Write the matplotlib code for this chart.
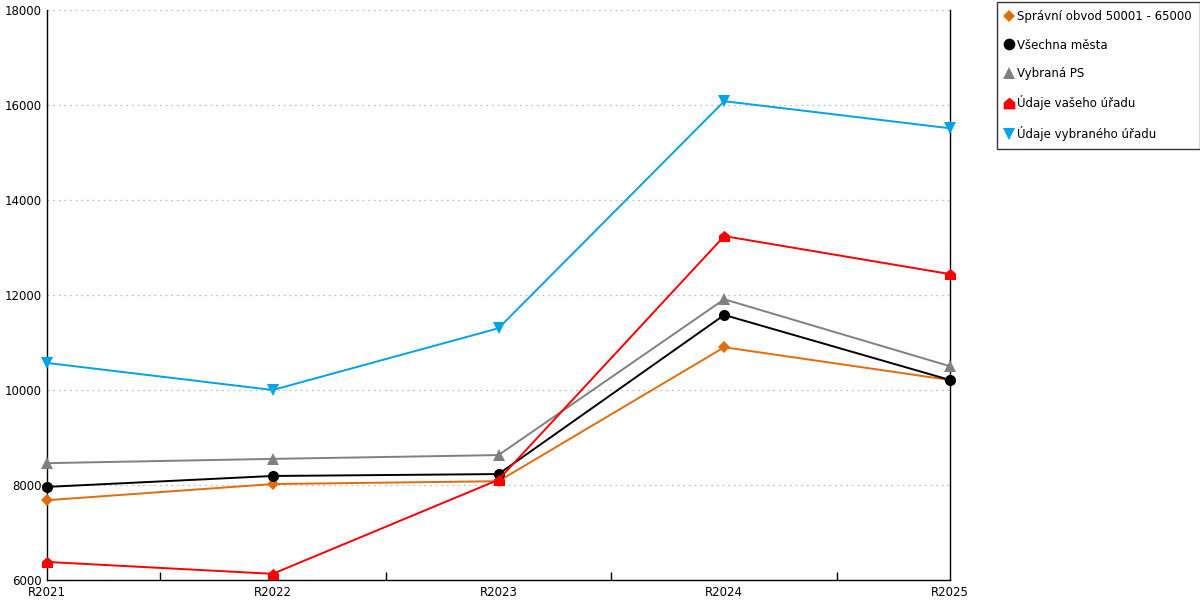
import numpy as np
import matplotlib.pyplot as plt
from matplotlib.path import Path
from matplotlib.lines import Line2D

# data
roky = ["R2021", "R2022", "R2023", "R2024", "R2025"]
spravni_obvod = [7680, 8020, 8080, 10900, 10210]
vsechna_mesta = [7960, 8190, 8230, 11580, 10210]
vybrana_ps = [8460, 8550, 8630, 11910, 10500]
vas_urad = [6380, 6130, 8110, 13240, 12440]
vybrany_urad = [10570, 10000, 11300, 16080, 15510]

# house-shaped marker for "Údaje vašeho úřadu"
house = Path([(-1, -1), (1, -1), (1, 0.15), (0, 1), (-1, 0.15), (-1, -1)],
             [Path.MOVETO, Path.LINETO, Path.LINETO, Path.LINETO, Path.LINETO, Path.CLOSEPOLY])

serie = [
    ("Správní obvod 50001 - 65000", spravni_obvod, "#e36c0a", "D", 6),
    ("Všechna města", vsechna_mesta, "#000000", "o", 8),
    ("Vybraná PS", vybrana_ps, "#808080", "^", 8),
    ("Údaje vašeho úřadu", vas_urad, "#ff0000", house, 8),
    ("Údaje vybraného úřadu", vybrany_urad, "#00a2e8", "v", 8),
]

plt.rcParams['font.family'] = ['DejaVu Sans']
fig = plt.figure(figsize=(12, 6), dpi=100)
ax = fig.add_axes([47/1200, 20/600, (950-47)/1200, 570/600])

x = np.arange(len(roky))
handles = []
for nazev, hodnoty, barva, znacka, vel in serie:
    ax.plot(x, hodnoty, color=barva, lw=1.4, marker=znacka, ms=vel,
            markeredgewidth=0, clip_on=False, zorder=3)
    handles.append(Line2D([], [], ls="none", marker=znacka, color=barva,
                          ms=vel*1.05, markeredgewidth=0, label=nazev))

ax.set_xlim(0, len(roky) - 1)
ax.set_ylim(6000, 18000)
ax.set_yticks(np.arange(6000, 18001, 2000))
ax.set_xticks(x)
ax.set_xticklabels(roky)
ax.set_xticks(x[:-1] + 0.5, minor=True)
ax.tick_params(axis="x", which="major", length=0, pad=4, labelsize=8.5)
ax.tick_params(axis="x", which="minor", length=6, direction="in", width=1)
ax.tick_params(axis="y", length=0, pad=4, labelsize=8.5)
ax.grid(axis="y", color="#c0c0c0", ls=(0, (1.5, 3)), lw=0.9)
ax.spines["top"].set_visible(False)
for s in ["left", "right", "bottom"]:
    ax.spines[s].set_linewidth(1)

leg = fig.legend(handles=handles, loc="upper left", bbox_to_anchor=(997/1200, 598/600),
                 fontsize=8.5, frameon=True, fancybox=False, edgecolor="black",
                 handlelength=0.7, handletextpad=0.3, labelspacing=1.3,
                 borderpad=0.7, borderaxespad=0)
leg.get_frame().set_linewidth(1)

fig.savefig("out.png", dpi=100)
